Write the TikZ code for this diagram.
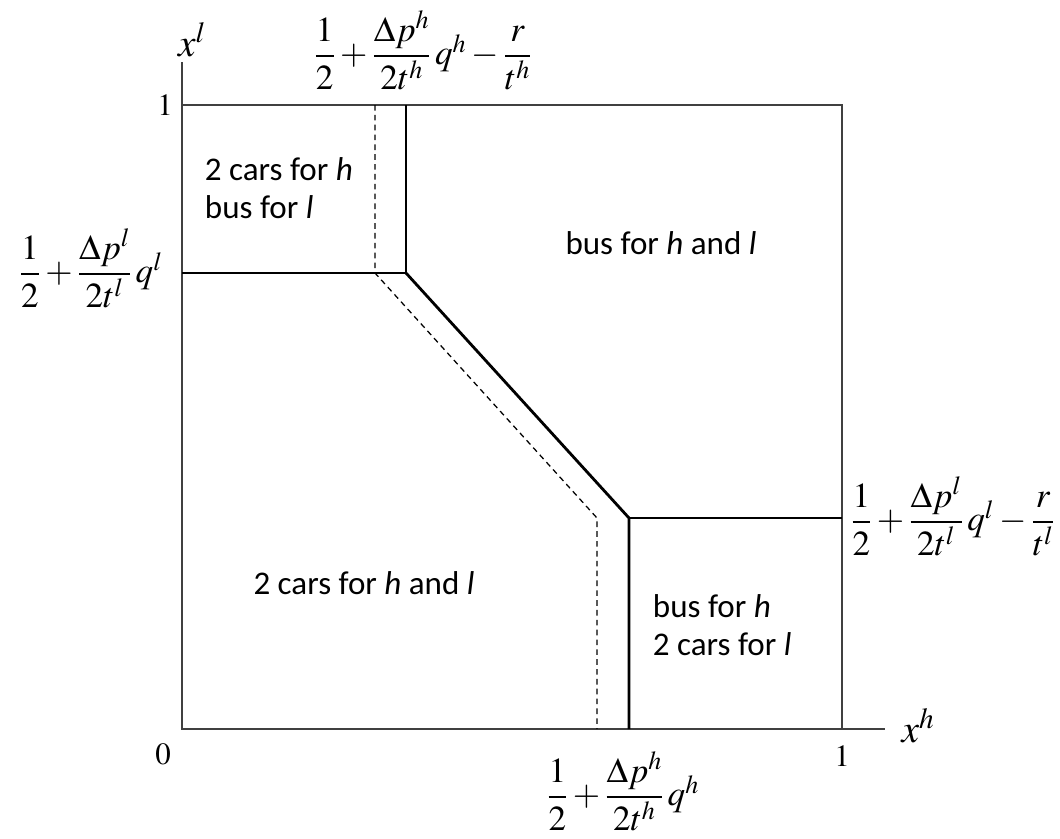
\documentclass[tikz,border=0pt]{standalone}
\usepackage{amsmath}
\usepackage{mathptmx}
\usepackage[no-math]{fontspec}
\setmainfont{Carlito}
\usetikzlibrary{positioning}

\tikzset{
  frame/.style={line width=1.1pt, black!75},
  split/.style={line width=2pt},
  guide/.style={line width=0.9pt, dash pattern=on 4pt off 3pt},
  region/.style={font=\fontsize{23.5}{27}\selectfont, align=left},
  formula/.style={font=\fontsize{25}{29}\selectfont},
  ticklbl/.style={font=\fontsize{22}{26}\selectfont},
  axislbl/.style={font=\fontsize{28}{32}\selectfont},
}

\begin{document}
\begin{tikzpicture}[x=0.025cm, y=-0.025cm]
    \useasboundingbox (0,0) rectangle (1060,838);

    % corners of the unit square
    \coordinate (O) at (182,729);
    \coordinate (A) at (842,729);
    \coordinate (B) at (842,105);
    \coordinate (C) at (182,105);
    \coordinate (yend) at (182,62);
    \coordinate (xend) at (885,729);

    % breakpoints of the solid border
    \coordinate (s1) at (182,273);
    \coordinate (s2) at (406,273);
    \coordinate (s3) at (406,105);
    \coordinate (s4) at (629,518);
    \coordinate (s5) at (629,729);
    \coordinate (s6) at (842,518);

    % breakpoints of the dashed border
    \coordinate (d1) at (375,105);
    \coordinate (d2) at (375,273);
    \coordinate (d3) at (597,518);
    \coordinate (d4) at (597,729);

    \draw[frame] (yend) -- (O) -- (xend);
    \draw[frame] (C) -- (B) -- (A);

    \draw[split] (s1) -- (s2) -- (s3);
    \draw[split] (s2) -- (s4) -- (s5);
    \draw[split] (s4) -- (s6);
    \draw[guide] (d1) -- (d2) -- (d3) -- (d4);

    \node[axislbl] (xl) at (192,40) {$x^{l}$};
    \node[axislbl] (xh) at (918,726) {$x^{h}$};
    \node[ticklbl] (one-y) at (165,105) {$1$};
    \node[ticklbl] (zero) at (163,754) {$0$};
    \node[ticklbl] (one-x) at (842,756) {$1$};

    \node[formula] (top) at (423,50) {$\dfrac{1}{2}+\dfrac{\Delta p^{h}}{2t^{h}}\,q^{h}-\dfrac{r}{t^{h}}$};
    \node[formula] (left) at (91,268) {$\dfrac{1}{2}+\dfrac{\Delta p^{l}}{2t^{l}}\,q^{l}$};
    \node[formula, anchor=west] (right) at (846,516) {$\dfrac{1}{2}+\dfrac{\Delta p^{l}}{2t^{l}}\,q^{l}-\dfrac{r}{t^{l}}$};
    \node[formula] (bottom) at (623,791) {$\dfrac{1}{2}+\dfrac{\Delta p^{h}}{2t^{h}}\,q^{h}$};

    \node[region, anchor=west] (r1) at (200,188) {2 cars for \textit{h}\\bus for \textit{l}};
    \node[region] (r2) at (661,243) {bus for \textit{h} and \textit{l}};
    \node[region] (r3) at (364,583) {2 cars for \textit{h} and \textit{l}};
    \node[region, anchor=west] (r4) at (648,625) {bus for \textit{h}\\2 cars for \textit{l}};
\end{tikzpicture}
\end{document}
